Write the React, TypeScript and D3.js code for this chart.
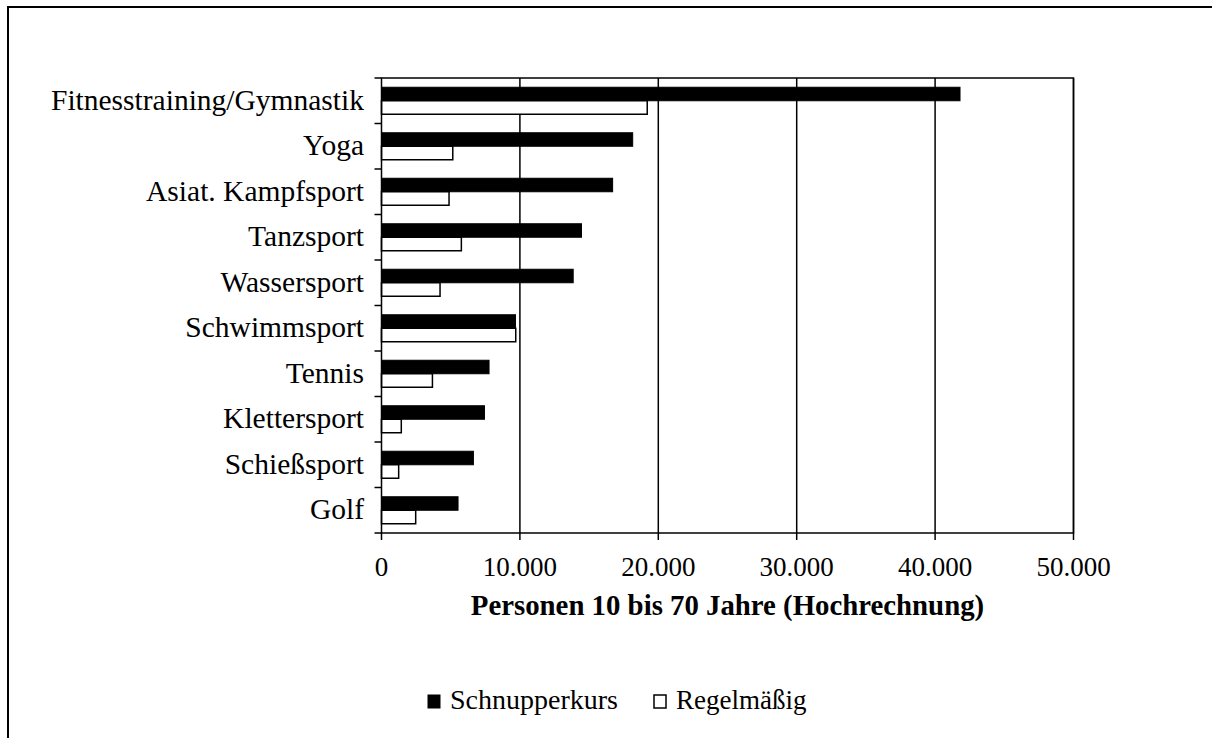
import React from "react";
import * as d3 from "d3";

const categories = [
  "Fitnesstraining/Gymnastik",
  "Yoga",
  "Asiat. Kampfsport",
  "Tanzsport",
  "Wassersport",
  "Schwimmsport",
  "Tennis",
  "Klettersport",
  "Schießsport",
  "Golf",
];
const schnupperkurs = [41800, 18150, 16700, 14450, 13850, 9680, 7770, 7440, 6640, 5530];
const regelmaessig = [19200, 5150, 4880, 5770, 4230, 9700, 3680, 1430, 1240, 2470];
const xTicks = [0, 10000, 20000, 30000, 40000, 50000];
const seriesNames = ["Schnupperkurs", "Regelmäßig"];
const xTitle = "Personen 10 bis 70 Jahre (Hochrechnung)";

const FONT = "'Liberation Serif', 'Times New Roman', serif";

export default function App() {
  const W = 1212, H = 738;
  const left = 381.5, right = 1073.5, top = 78, bottom = 533;
  const x = d3.scaleLinear().domain([0, 50000]).range([left, right]);
  const y = d3.scaleBand<string>().domain(categories).range([top, bottom]);
  const bw = y.bandwidth();
  const barH = 13.5;
  const fmt = (v: number) => d3.format(",")(v).replace(/,/g, ".");
  return (
    <>
      <style>{"html,body{margin:0;padding:0;overflow:hidden;background:#fff}"}</style>
      <svg width={W} height={H} style={{ position: "absolute", left: 0, top: 0, display: "block", background: "#fff" }}>
        <path d={`M8,${H + 5} V7 H${W + 5}`} fill="none" stroke="#000" strokeWidth={2} />
        {/* gridlines */}
        {xTicks.slice(1).map((t) => (
          <line key={"g" + t} x1={x(t)} x2={x(t)} y1={top} y2={bottom} stroke="#000" strokeWidth={1.5} />
        ))}
        {/* bars */}
        {categories.map((c, i) => {
          const y0 = (y(c) as number) + (bw - 2 * barH) / 2;
          return (
            <g key={c}>
              <rect x={x(0)} y={y0} width={x(schnupperkurs[i]) - x(0)} height={barH} fill="#000" stroke="#000" strokeWidth={1} />
              <rect x={x(0)} y={y0 + barH} width={x(regelmaessig[i]) - x(0)} height={barH} fill="#fff" stroke="#000" strokeWidth={1.5} />
            </g>
          );
        })}
        {/* plot border */}
        <rect x={left} y={top} width={right - left} height={bottom - top} fill="none" stroke="#000" strokeWidth={1.5} />
        {/* y ticks */}
        {d3.range(categories.length + 1).map((i) => {
          const yy = top + i * bw;
          return <line key={"yt" + i} x1={left - 7} x2={left} y1={yy} y2={yy} stroke="#000" strokeWidth={1.5} />;
        })}
        {/* x ticks */}
        {xTicks.map((t) => (
          <g key={"xt" + t}>
            <line x1={x(t)} x2={x(t)} y1={bottom} y2={bottom + 7} stroke="#000" strokeWidth={1.5} />
            <text x={x(t)} y={576} textAnchor="middle" fontFamily={FONT} fontSize={27} fill="#000">
              {fmt(t)}
            </text>
          </g>
        ))}
        {/* category labels */}
        {categories.map((c) => (
          <text key={"l" + c} x={364} y={(y(c) as number) + bw / 2 + 9} textAnchor="end" fontFamily={FONT} fontSize={29.5} fill="#000">
            {c}
          </text>
        ))}
        <text x={727.5} y={615} textAnchor="middle" fontFamily={FONT} fontSize={28.8} fontWeight="bold" fill="#000">
          {xTitle}
        </text>
        {/* legend */}
        <rect x={428} y={695} width={12} height={13} fill="#000" stroke="#000" />
        <text x={450} y={709} fontFamily={FONT} fontSize={28} fill="#000">{seriesNames[0]}</text>
        <rect x={654} y={695} width={12} height={13} fill="#fff" stroke="#000" strokeWidth={1.5} />
        <text x={676} y={709} fontFamily={FONT} fontSize={27} fill="#000">{seriesNames[1]}</text>
      </svg>
    </>
  );
}
